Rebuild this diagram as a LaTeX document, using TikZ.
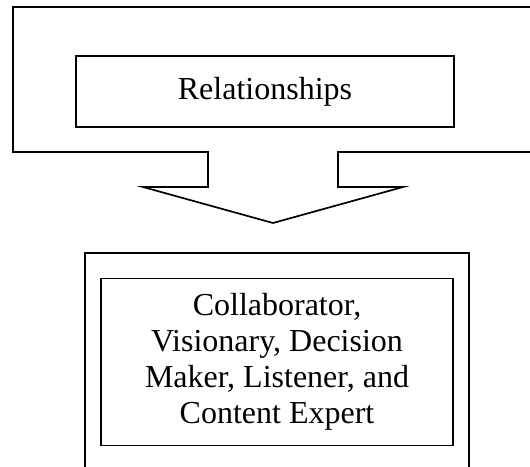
\documentclass[tikz,border=0pt]{standalone}
\usepackage{fontspec}
\setmainfont{Liberation Serif}
\usetikzlibrary{positioning}

\tikzset{
  frame/.style={line width=1.7pt, line join=miter},
  textbox/.style={draw, line width=1.7pt, align=center, font=\fontsize{32}{36}\selectfont}
}

\begin{document}
\begin{tikzpicture}[x=1pt, y=-1pt]
        % Fix the size of the picture
        \useasboundingbox (0,0) rectangle (530,466);
        \clip (0,0) rectangle (530,466);
        % Outer top frame with the block arrow leaving it
        \draw[frame] (560,152) -- (338,152) -- (338,187) -- (403,187) -- (273,223)
              -- (143,187) -- (208,187) -- (208,152) -- (13,152) -- (13,7) -- (560,7);
        % Inner top box
        \node[textbox, minimum width=378pt, minimum height=71pt] (rel) at (265,91.5) {Relationships};
        % Outer bottom frame
        \draw[frame] (85,480) -- (85,253) -- (469,253) -- (469,480);
        % Inner bottom box
        \node[textbox, minimum width=352pt, minimum height=167pt] (roles) at (277,362)
              {Collaborator,\\Visionary, Decision\\Maker, Listener, and\\Content Expert};
    \end{tikzpicture}
\end{document}
